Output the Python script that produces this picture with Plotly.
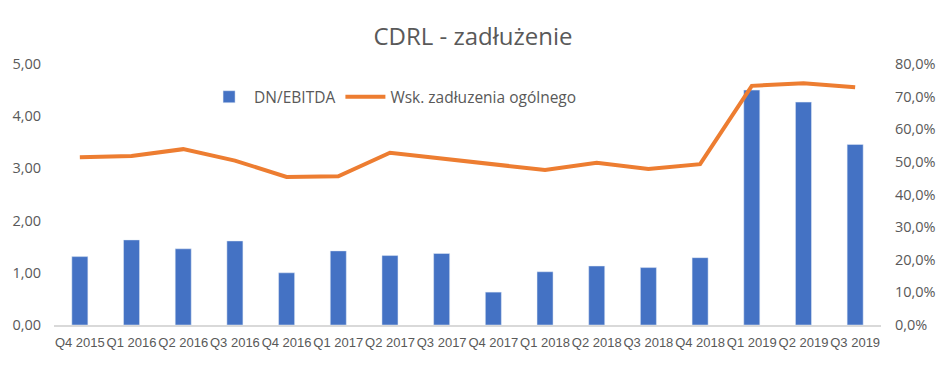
import plotly.graph_objects as go

categories = ["Q4 2015", "Q1 2016", "Q2 2016", "Q3 2016", "Q4 2016", "Q1 2017", "Q2 2017", "Q3 2017",
              "Q4 2017", "Q1 2018", "Q2 2018", "Q3 2018", "Q4 2018", "Q1 2019", "Q2 2019", "Q3 2019"]
dn_ebitda = [1.31, 1.63, 1.46, 1.61, 1.00, 1.42, 1.33, 1.37, 0.63, 1.02, 1.13, 1.10, 1.29, 4.50, 4.27, 3.46]
wsk_zadluzenia = [0.514, 0.518, 0.539, 0.504, 0.454, 0.456, 0.528, 0.510, 0.493, 0.475, 0.497, 0.478,
                  0.493, 0.733, 0.741, 0.729]

grey = "#595959"
narrow = "Liberation Sans Narrow, Arial Narrow, Liberation Sans, Arial, sans-serif"
sans = "Open Sans, sans-serif"

fig = go.Figure()
fig.add_trace(go.Bar(x=categories, y=dn_ebitda, name="DN/EBITDA", marker_color="#4472C4", yaxis="y"))
fig.add_trace(go.Scatter(x=categories, y=wsk_zadluzenia, name="Wsk. zadłuzenia ogólnego", mode="lines",
                         line=dict(color="#ED7D31", width=4), yaxis="y2"))

fig.update_layout(
    width=945, height=377,
    margin=dict(l=46, r=72, t=56, b=60, autoexpand=False),
    paper_bgcolor="white", plot_bgcolor="white",
    separators=", ",
    bargap=0.69,
    title=dict(text="CDRL - zadłużenie", x=465 / 945, xref="container", xanchor="center",
               y=1 - 29 / 377, yref="container", yanchor="middle",
               font=dict(family=sans, size=24, color=grey, weight="normal")),
    font=dict(family=sans, color=grey),
    legend=dict(orientation="h", x=0.41, xanchor="center", y=0.873, yanchor="middle",
                font=dict(size=15.5, color=grey, family=sans), bgcolor="rgba(0,0,0,0)",
                itemwidth=40, tracegroupgap=0),
    xaxis=dict(showline=True, linecolor="#d9d9d9", linewidth=2, ticks="", tickangle=0,
               ticklabelstandoff=4,
               tickfont=dict(size=13, color=grey, family=narrow), showgrid=False),
    yaxis=dict(range=[0, 5], dtick=1, tickformat=".2f", showgrid=False, zeroline=False, ticks="",
               ticklabelstandoff=12,
               tickfont=dict(size=14.5, color=grey, family=sans)),
    yaxis2=dict(range=[0, 0.8], dtick=0.1, tickformat=".1%", overlaying="y", side="right", showgrid=False,
                zeroline=False, ticks="", ticklabelstandoff=13,
                tickfont=dict(size=14.5, color=grey, family=sans)),
    showlegend=True,
)

fig.write_html("out.html")
